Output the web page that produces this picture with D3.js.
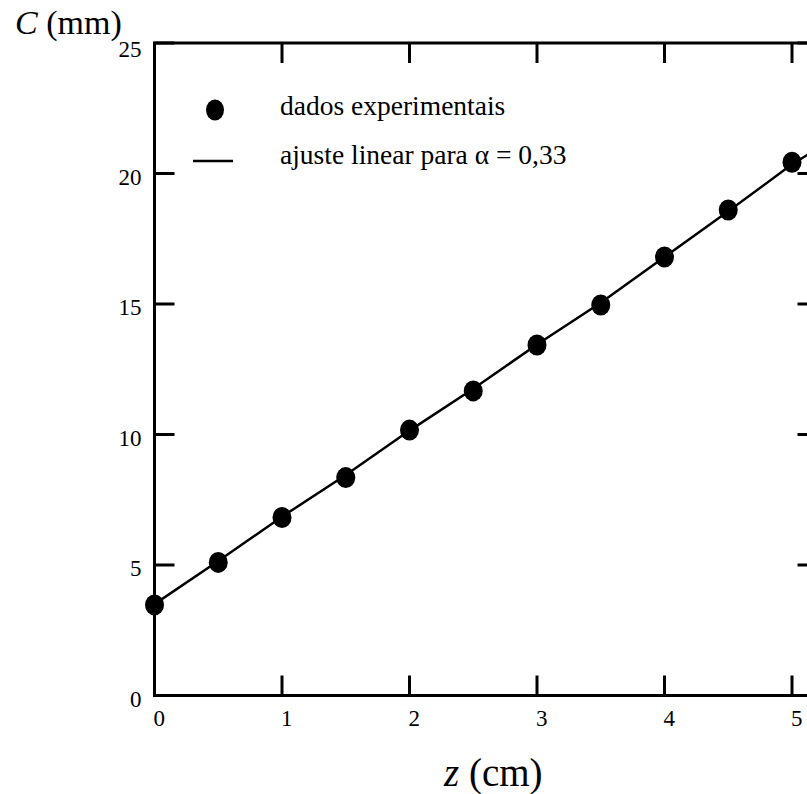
<!DOCTYPE html>
<html>
<head>
<meta charset="utf-8">
<script src="https://cdn.jsdelivr.net/npm/d3@7"></script>
<style>
  body { margin: 0; background: #fff; }
  svg { display: block; font-family: "Liberation Serif", "Times New Roman", serif; }
</style>
</head>
<body>
<div class="container"></div>
<script>
// data
const zData = [0, 0.5, 1, 1.5, 2, 2.5, 3, 3.5, 4, 4.5, 5];
const cData = [3.47, 5.1, 6.82, 8.35, 10.17, 11.67, 13.43, 14.96, 16.8, 18.6, 20.43];

// fitted line
const zFit = [0, 0.5, 1, 1.5, 2, 2.5, 3, 3.5, 4, 4.5, 5, 5.2];
const cFit = [3.5, 5.15, 6.85, 8.45, 10.15, 11.75, 13.45, 15.05, 16.8, 18.55, 20.35, 20.95];

const xTicks = [0, 1, 2, 3, 4, 5];
const yTicks = [0, 5, 10, 15, 20, 25];

const legendLabels = ["dados experimentais", "ajuste linear para \u03b1 = 0,33"];

// SETUP
const width = 807, height = 794;
const tickLen = 20;

const svg = d3.select("div.container")
  .append("svg")
  .attr("width", width)
  .attr("height", height);

const x = d3.scaleLinear().domain([0, 5.2]).range([154.5, 817.5]);
const y = d3.scaleLinear().domain([0, 25]).range([695.5, 43]);

// frame (right side falls outside the window, as in the original)
svg.append("rect")
  .attr("x", x(0))
  .attr("y", y(25))
  .attr("width", x(5.2) - x(0))
  .attr("height", y(0) - y(25))
  .attr("fill", "none")
  .attr("stroke", "#000")
  .attr("stroke-width", 3);

// inward ticks on all four sides
const ticks = svg.append("g").attr("stroke", "#000").attr("stroke-width", 3);

ticks.selectAll("line.bottom")
  .data(xTicks).enter().append("line")
  .attr("class", "bottom")
  .attr("x1", d => x(d)).attr("x2", d => x(d))
  .attr("y1", y(0)).attr("y2", y(0) - tickLen);

ticks.selectAll("line.top")
  .data(xTicks).enter().append("line")
  .attr("class", "top")
  .attr("x1", d => x(d)).attr("x2", d => x(d))
  .attr("y1", y(25)).attr("y2", y(25) + tickLen);

ticks.selectAll("line.left")
  .data(yTicks).enter().append("line")
  .attr("class", "left")
  .attr("x1", x(0)).attr("x2", x(0) + tickLen)
  .attr("y1", d => y(d)).attr("y2", d => y(d));

ticks.selectAll("line.right")
  .data(yTicks).enter().append("line")
  .attr("class", "right")
  .attr("x1", x(5.2)).attr("x2", x(5.2) - tickLen)
  .attr("y1", d => y(d)).attr("y2", d => y(d));

// tick labels
svg.selectAll("text.xlab")
  .data(xTicks).enter().append("text")
  .attr("class", "xlab")
  .attr("x", d => x(d) - 1)
  .attr("y", y(0) + 30)
  .style("font-size", "23px")
  .text(d => d);

svg.selectAll("text.ylab")
  .data(yTicks).enter().append("text")
  .attr("class", "ylab")
  .attr("x", x(0) - 13)
  .attr("y", d => y(d) + (d === 25 ? 14 : 11))
  .attr("text-anchor", "end")
  .style("font-size", "23px")
  .text(d => d);

// axis titles
const yTitle = svg.append("text")
  .attr("x", 15)
  .attr("y", 34)
  .style("font-size", "34px");
yTitle.append("tspan").style("font-style", "italic").text("C");
yTitle.append("tspan").text(" (mm)");

const xTitle = svg.append("text")
  .attr("x", 444)
  .attr("y", 786)
  .style("font-size", "39px");
xTitle.append("tspan").style("font-style", "italic").text("z");
xTitle.append("tspan").text(" (cm)");

// fit line
const line = d3.line()
  .x((d, i) => x(zFit[i]))
  .y(d => y(d));

svg.append("path")
  .datum(cFit)
  .attr("d", line)
  .attr("fill", "none")
  .attr("stroke", "#000")
  .attr("stroke-width", 2.5);

// experimental points
svg.selectAll("ellipse.pt")
  .data(cData).enter().append("ellipse")
  .attr("class", "pt")
  .attr("cx", (d, i) => x(zData[i]))
  .attr("cy", d => y(d))
  .attr("rx", 9.5)
  .attr("ry", 10.5)
  .attr("fill", "#000");

// legend
const legend = svg.append("g");

legend.append("ellipse")
  .attr("cx", 215).attr("cy", 110)
  .attr("rx", 9).attr("ry", 10.5)
  .attr("fill", "#000");

legend.append("line")
  .attr("x1", 193).attr("x2", 233)
  .attr("y1", 161).attr("y2", 161)
  .attr("stroke", "#000")
  .attr("stroke-width", 2.5);

legend.selectAll("text")
  .data(legendLabels).enter().append("text")
  .attr("x", 280)
  .attr("y", (d, i) => 115 + i * 49)
  .style("font-size", "27.5px")
  .text(d => d);
</script>
</body>
</html>
